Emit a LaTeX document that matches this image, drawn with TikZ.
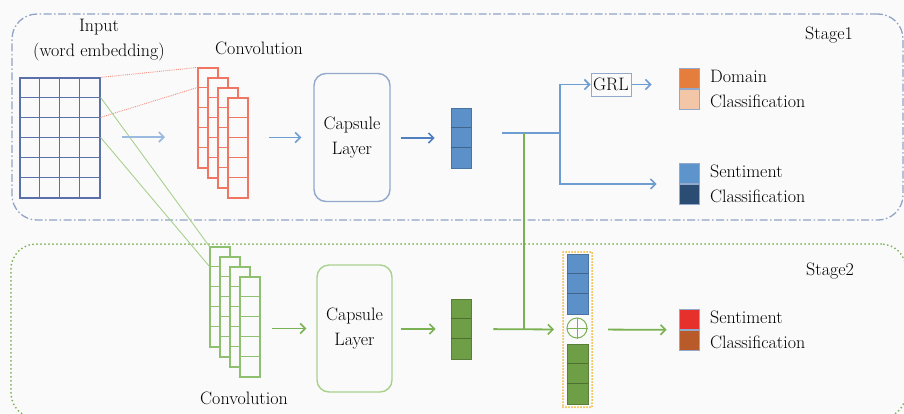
\documentclass[tikz,border=0pt]{standalone}
\usepackage{tikz}
\usetikzlibrary{shapes,arrows,arrows.meta,fit,positioning,calc}
\definecolor{bg}{HTML}{FAFAFA}
\definecolor{stblue}{HTML}{8FA3C4}
\definecolor{gridblue}{HTML}{5A70A8}
\definecolor{convred}{HTML}{F07562}
\definecolor{lblue}{HTML}{6E9DD2}
\definecolor{dblue}{HTML}{4F7FC0}
\definecolor{capblue}{HTML}{92A9CC}
\definecolor{vblue}{HTML}{5B90C9}
\definecolor{vgreen}{HTML}{6E9E45}
\definecolor{lgreen}{HTML}{8FC070}
\definecolor{agreen}{HTML}{7AB152}
\definecolor{capgreen}{HTML}{A9D08E}
\definecolor{stgreen}{HTML}{7DB356}
\definecolor{catorange}{HTML}{F2B632}
\definecolor{domA}{HTML}{E57E3C}
\definecolor{domB}{HTML}{F3C6A8}
\definecolor{senA}{HTML}{5D94CC}
\definecolor{senB}{HTML}{2B4D74}
\definecolor{senC}{HTML}{E6302B}
\definecolor{senD}{HTML}{B85A2A}

\begin{document}
\begin{tikzpicture}[x=1pt,y=-1pt,% pixel units, y runs downwards
      every node/.style={
        align=center,     % so that "\\" breaks the line
        inner sep=0pt,
        font=\fontsize{18}{25}\selectfont
      },
      fmap/.style={rectangle,fill=bg,line width=1.1pt,minimum width=20pt,minimum height=100pt},
      caps/.style={rectangle,rounded corners=12pt,line width=1.4pt,fill=bg,minimum width=76pt,minimum height=128pt},
      vec/.style={rectangle,line width=0.8pt,minimum width=20pt,minimum height=60pt},
      cls/.style={rectangle,draw=capblue,line width=0.8pt,minimum width=20pt,minimum height=20.5pt},
      arr/.style={-{Straight Barb[length=5pt,width=10pt,line width=1.6pt]},line width=1.8pt}
    ]
    \useasboundingbox (0,0) rectangle (904,413);
    \clip (0,0) rectangle (904,413);
    \fill[bg] (0,0) rectangle (904,413);

    % the two stages
    \node[rectangle,rounded corners=25pt,draw=stblue,line width=1.3pt,
      dash pattern=on 8pt off 2.5pt on 1.5pt off 2.5pt,
      minimum width=891pt,minimum height=206pt](st1) at (457.5,117){};
    \node[rectangle,rounded corners=25pt,draw=stgreen,line width=2pt,line cap=round,
      dash pattern=on 0pt off 4pt,
      minimum width=895pt,minimum height=174pt](st2) at (458.5,331){};
    \node(st1lab) at (829,35){Stage1};
    \node(st2lab) at (830,271){Stage2};

    % input word embedding
    \node[rectangle,draw=gridblue,line width=1.2pt,minimum width=80pt,minimum height=120pt](inp) at (60,138){};
    \foreach \i in {1,2,3}
      \draw[draw=gridblue,line width=1.3pt] ($(inp.north west)+(20*\i,0)$) -- ++(0,120);
    \foreach \j in {1,...,5}
      \draw[draw=gridblue,line width=1.3pt] ($(inp.north west)+(0,20*\j)$) -- ++(80,0);
    \node(inplab) at (99,40){Input\\(word embedding)};

    % convolution, stage 1
    \foreach \i in {1,...,4}{
      \node[fmap,draw=convred](rc\i) at ({198+10*\i},{108+10*\i}){};
      \foreach \j in {1,...,4}
        \draw[convred,line width=1.1pt] ($(rc\i.north west)+(0,20*\j)$) -- ++(20,0);
    }
    \node(rclab) at (259,48){Convolution};

    % convolution, stage 2
    \foreach \i in {1,...,4}{
      \node[fmap,draw=lgreen](gc\i) at ({210+10*\i},{287+10*\i}){};
      \foreach \j in {1,...,4}
        \draw[lgreen,line width=1.1pt] ($(gc\i.north west)+(0,20*\j)$) -- ++(20,0);
    }
    \node(gclab) at (244,398){Convolution};

    % input to the filters
    \draw[convred!80,line width=0.9pt,densely dotted] (inp.north east) -- (rc1.north west);
    \draw[convred!80,line width=0.9pt,densely dotted] ($(inp.north east)+(0,40)$) -- ($(rc1.north west)+(0,20)$);
    \draw[capgreen,line width=0.9pt] ($(inp.north east)+(0,20)$) -- (gc1.north west);
    \draw[capgreen,line width=0.9pt] ($(inp.north east)+(0,60)$) -- ($(gc1.north west)+(0,20)$);
    \coordinate(ia) at (122,137);
    \coordinate(ib) at (165,137);
    \draw[arr,lblue!70,line width=1.2pt] (ia) -- (ib);

    % capsule layers
    \node[caps,draw=capblue](cap1) at (352,137.5){Capsule\\Layer};
    \node[caps,draw=capgreen,minimum width=75pt,minimum height=127pt](cap2) at (354.5,328.5){Capsule\\Layer};

    % capsule vectors
    \node[vec,fill=vblue,draw=vblue!80!black](bv) at (461,138){};
    \node[vec,fill=vgreen,draw=vgreen!80!black](gv) at (461,329){};
    \foreach \v/\c in {bv/vblue,gv/vgreen}
      \foreach \j in {1,2}
        \draw[\c!70!black,line width=0.7pt] ($(\v.north west)+(0,20*\j)$) -- ++(20,0);

    % concatenation
    \node[rectangle,draw=catorange,line width=2pt,line cap=round,dash pattern=on 0pt off 3pt,
      minimum width=29pt,minimum height=155pt](cat) at (577.5,329.5){};
    \node[vec,fill=vblue,draw=vblue!80!black,minimum width=21pt](cb) at (577.5,284){};
    \node[vec,fill=vgreen,draw=vgreen!80!black,minimum width=21pt](cg) at (577.5,374){};
    \foreach \v/\c in {cb/vblue,cg/vgreen}
      \foreach \j in {1,2}
        \draw[\c!70!black,line width=0.7pt] ($(\v.north west)+(0,20*\j)$) -- ++(21,0);
    \node[circle,draw=agreen,line width=1pt,minimum size=20pt](oplus) at (577,328){};
    \draw[agreen,line width=1pt] (oplus.north) -- (oplus.south) (oplus.west) -- (oplus.east);

    % outputs
    \node[rectangle,draw=capblue,line width=1pt,minimum width=40pt,minimum height=23pt](grl) at (611,84.5){GRL};
    \node[cls,fill=domA](dom1) at (689,78.25){};
    \node[cls,fill=domB,below=0pt of dom1](dom2){};
    \node[cls,fill=senA](sa1) at (689,173.25){};
    \node[cls,fill=senB,below=0pt of sa1](sa2){};
    \node[cls,fill=senC](sb1) at (689,319.25){};
    \node[cls,fill=senD,below=0pt of sb1](sb2){};
    \node[align=left,anchor=west](domlab) at (710,89){Domain\\Classification};
    \node[align=left,anchor=west](salab) at (710,184){Sentiment\\Classification};
    \node[align=left,anchor=west](sblab) at (710,330){Sentiment\\Classification};

    % connectors
    \coordinate(b0) at (502,133);
    \coordinate(j1) at (524,133);
    \coordinate(sp) at (560,133);
    \draw[lblue,line width=1.6pt] (b0) -- (sp);
    \draw[agreen,line width=1.6pt] (j1) -- (j1 |- cat.west);
    \path[arr]
    (rc4.east |- cap1.west) edge [lblue,shorten <=20pt,shorten >=12pt] node {} (cap1.west)
    (cap1.east |- bv.west) edge [dblue,shorten <=10pt,shorten >=16pt] node {} (bv.west)
    (gc4.east |- cap2.west) edge [agreen,shorten <=11pt,shorten >=10pt] node {} (cap2.west)
    (cap2.east |- gv.west) edge [agreen,shorten <=8pt,shorten >=15pt] node {} (gv.west)
    (gv.east) edge [agreen,shorten <=22pt,shorten >=8pt] node {} (cat.west)
    (cat.east) edge [agreen,shorten <=15pt,shorten >=12pt] node {} (sb1.south west)
    (grl.east) edge [lblue,line width=1.3pt,shorten >=27pt] node {} (grl.east -| dom1.west)
    ;
    \draw[arr,lblue,line width=1.3pt] (sp) |- (grl.west);
    \draw[arr,lblue,line width=1.3pt,shorten >=22pt] (sp) |- (sa1.south west);
  \end{tikzpicture}
\end{document}
